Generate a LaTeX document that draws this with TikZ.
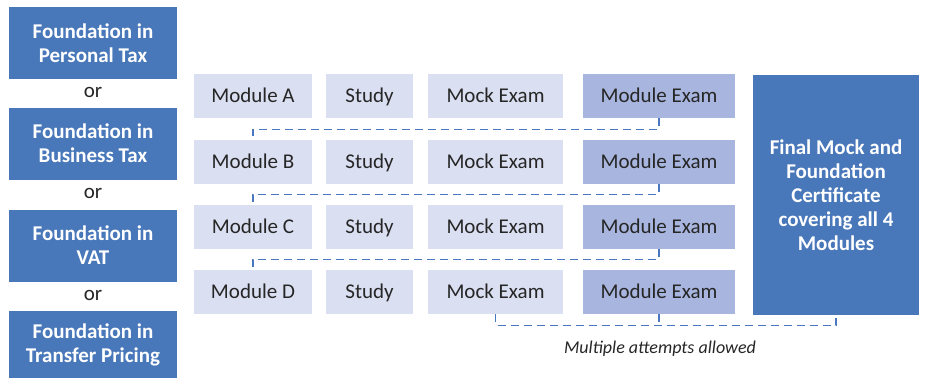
\documentclass[tikz,border=0pt]{standalone}
\usepackage{fontspec}
\setmainfont{Carlito}
\usepackage{tikz}
\usetikzlibrary{positioning}

\definecolor{fblue}{HTML}{4877BA}
\definecolor{lilac}{HTML}{DADFF1}
\definecolor{lilacdark}{HTML}{A8B5DE}
\definecolor{linkblue}{HTML}{4A78C0}
\definecolor{ink}{HTML}{262626}

\begin{document}
\begin{tikzpicture}[
    x=1pt, y=-1pt,
    found/.style={rectangle, fill=fblue, text=white, inner sep=0pt,
                  minimum width=168pt, minimum height=72pt,
                  font=\fontsize{21}{24}\selectfont\bfseries, align=center},
    orword/.style={font=\fontsize{21}{24}\selectfont, text=ink, inner sep=0pt},
    stage/.style={rectangle, fill=lilac, text=ink, inner sep=0pt,
                  minimum height=44pt, text height=13.5pt, text depth=0pt,
                  font=\fontsize{21}{24}\selectfont},
    exam/.style={stage, fill=lilacdark},
    link/.style={draw=linkblue, line width=1.2pt, dash pattern=on 8pt off 5pt},
    note/.style={font=\fontsize{18}{22}\selectfont\itshape, text=ink}
]
\useasboundingbox (0,0) rectangle (926,378);

% Foundation choices
\node[found] (pt)  at (93, 43)    {Foundation in\\Personal Tax};
\node[found] (bt)  at (93, 143.5) {Foundation in\\Business Tax};
\node[found] (vat) at (93, 245.5) {Foundation in\\VAT};
\node[found, minimum height=67pt] (tp) at (93, 344.5) {Foundation in\\Transfer Pricing};

\node[orword] (or1) at (93, 92)  {or};
\node[orword] (or2) at (93, 193) {or};
\node[orword] (or3) at (93, 295) {or};

% Row A
\node[stage, minimum width=118pt] (modA)  at (253,   96) {Module A};
\node[stage, minimum width=87pt]  (stA)   at (369.5, 96) {Study};
\node[stage, minimum width=135pt] (mockA) at (495.5, 96) {Mock Exam};
\node[exam,  minimum width=152pt] (mexA)  at (659,   96) {Module Exam};

% Row B
\node[stage, minimum width=118pt] (modB)  at (253,   162) {Module B};
\node[stage, minimum width=87pt]  (stB)   at (369.5, 162) {Study};
\node[stage, minimum width=135pt] (mockB) at (495.5, 162) {Mock Exam};
\node[exam,  minimum width=152pt] (mexB)  at (659,   162) {Module Exam};

% Row C
\node[stage, minimum width=118pt] (modC)  at (253,   227) {Module C};
\node[stage, minimum width=87pt]  (stC)   at (369.5, 227) {Study};
\node[stage, minimum width=135pt] (mockC) at (495.5, 227) {Mock Exam};
\node[exam,  minimum width=152pt] (mexC)  at (659,   227) {Module Exam};

% Row D
\node[stage, minimum width=118pt] (modD)  at (253,   292) {Module D};
\node[stage, minimum width=87pt]  (stD)   at (369.5, 292) {Study};
\node[stage, minimum width=135pt] (mockD) at (495.5, 292) {Mock Exam};
\node[exam,  minimum width=152pt] (mexD)  at (659,   292) {Module Exam};

% Final
\node[found, minimum width=166pt, minimum height=240pt] (final) at (836, 195)
    {Final Mock and\\Foundation\\Certificate\\covering all 4\\Modules};

\node[note] (attempts) at (660, 349) {Multiple attempts allowed};

% Dashed links
\draw[link] (mexA.south) -- ++(0,11) -| (modB.north);
\draw[link] (mexB.south) -- ++(0,10) -| (modC.north);
\draw[link] (mexC.south) -- ++(0,10) -| (modD.north);
\draw[link] (mockD.south) -- ++(0,11) -| (final.south);
\draw[link] (mexD.south) -- ++(0,11);

\end{tikzpicture}
\end{document}
